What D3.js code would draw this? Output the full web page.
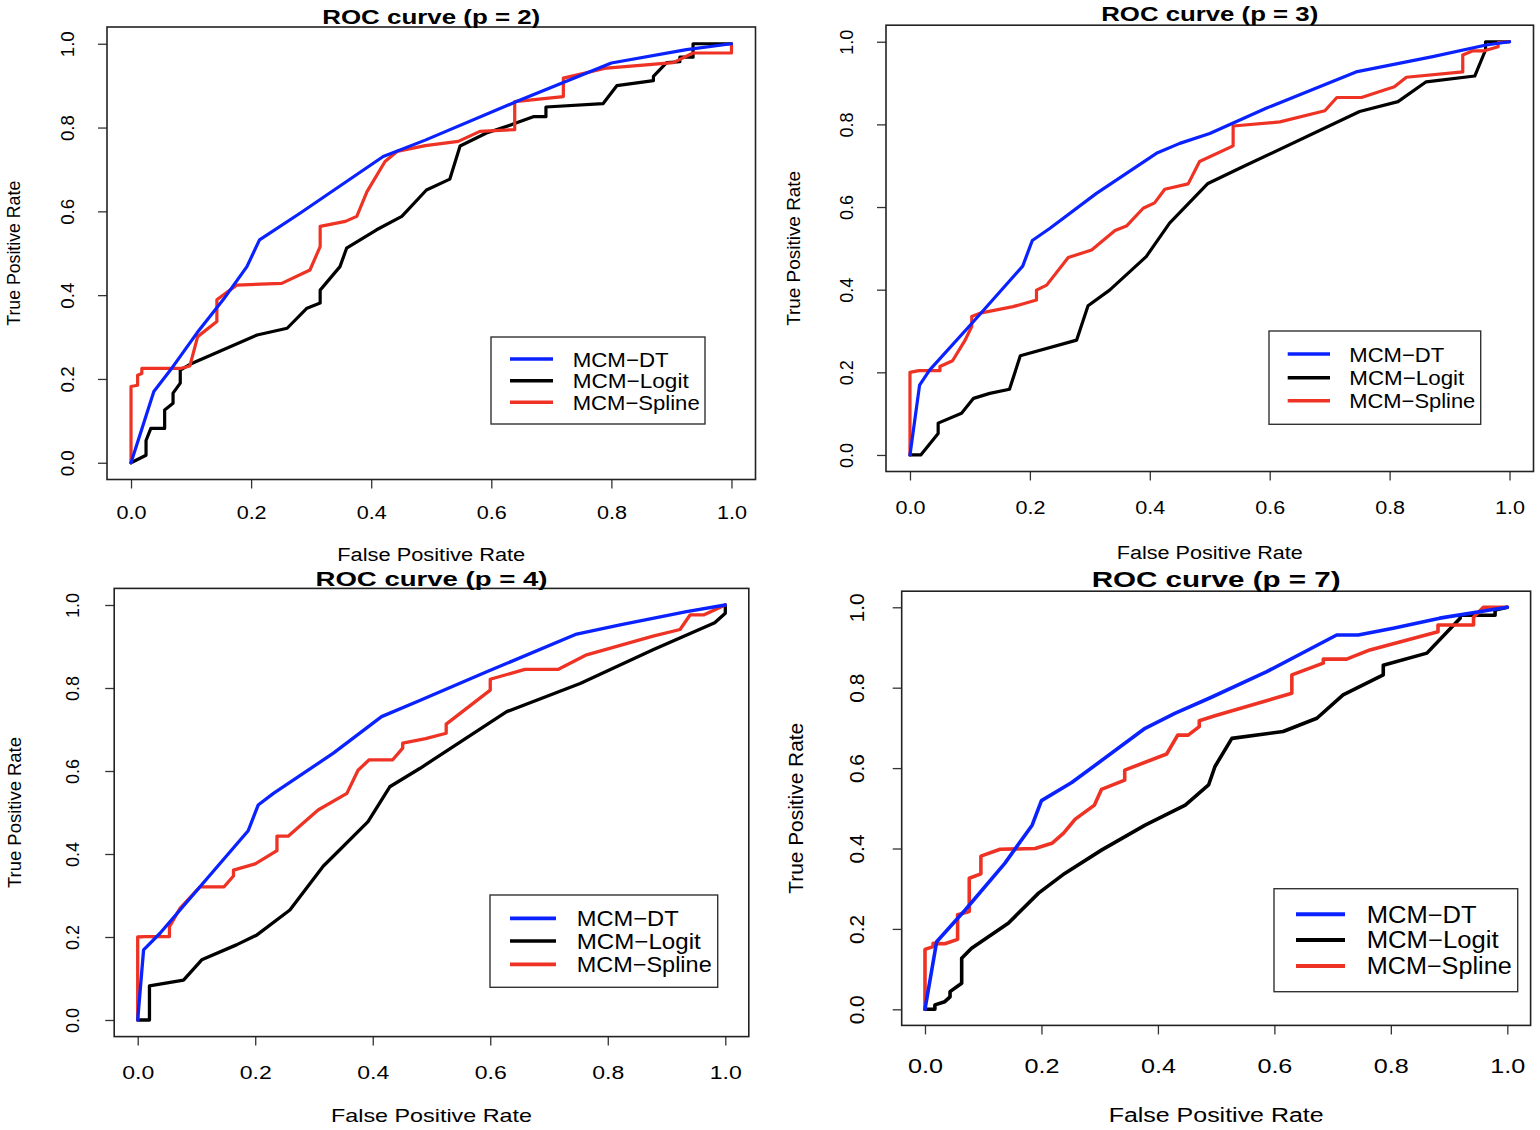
<!DOCTYPE html>
<html><head><meta charset="utf-8">
<script src="https://cdn.jsdelivr.net/npm/d3@7"></script>
<style>body{margin:0;background:#fff}svg{display:block}text{font-family:"Liberation Sans",Arial,Helvetica,sans-serif;fill:#000}</style>
</head><body>
<script>
// ---------- DATA ----------
const tickValues = [0, 0.2, 0.4, 0.6, 0.8, 1.0];
const seriesNames = ["MCM\u2212DT", "MCM\u2212Logit", "MCM\u2212Spline"];
const seriesColors = ["#0a22ff", "#000000", "#ee3224"];
const panelTitles = ["ROC curve (p = 2)", "ROC curve (p = 3)", "ROC curve (p = 4)", "ROC curve (p = 7)"];
const xLabel = "False Positive Rate";
const yLabel = "True Positive Rate";

const p2_dt = [[0,0],[0.038,0.17],[0.065,0.22],[0.11,0.31],[0.154,0.39],[0.193,0.468],[0.214,0.532],[0.282,0.596],[0.42,0.731],[0.49,0.77],[0.642,0.862],[0.8,0.954],[0.925,0.986],[1,1]];
const p2_logit = [[0,0],[0.025,0.018],[0.025,0.053],[0.033,0.082],[0.056,0.082],[0.056,0.126],[0.07,0.142],[0.07,0.166],[0.082,0.19],[0.082,0.221],[0.101,0.237],[0.21,0.305],[0.26,0.321],[0.293,0.369],[0.315,0.381],[0.315,0.412],[0.348,0.468],[0.359,0.512],[0.409,0.556],[0.451,0.588],[0.492,0.651],[0.531,0.677],[0.548,0.756],[0.592,0.787],[0.634,0.807],[0.67,0.826],[0.691,0.826],[0.691,0.849],[0.786,0.857],[0.809,0.9],[0.87,0.912],[0.87,0.922],[0.892,0.955],[0.914,0.957],[0.914,0.968],[0.936,0.968],[0.936,1],[1,1]];
const p2_spline = [[0,0],[0,0.182],[0.011,0.185],[0.011,0.209],[0.018,0.213],[0.018,0.225],[0.082,0.225],[0.098,0.231],[0.111,0.301],[0.143,0.337],[0.143,0.389],[0.176,0.424],[0.251,0.428],[0.298,0.46],[0.315,0.516],[0.315,0.564],[0.357,0.576],[0.376,0.588],[0.393,0.647],[0.423,0.719],[0.443,0.743],[0.49,0.757],[0.545,0.767],[0.581,0.791],[0.639,0.795],[0.639,0.862],[0.72,0.874],[0.72,0.918],[0.792,0.942],[0.903,0.955],[0.936,0.978],[1,0.978],[1,1]];

const p3_dt = [[0,0],[0.016,0.169],[0.033,0.206],[0.106,0.323],[0.188,0.457],[0.204,0.519],[0.233,0.548],[0.311,0.633],[0.411,0.73],[0.45,0.754],[0.5,0.778],[0.594,0.839],[0.744,0.927],[0.872,0.964],[0.961,0.992],[1,1]];
const p3_logit = [[0,0],[0.018,0],[0.047,0.052],[0.047,0.077],[0.086,0.101],[0.106,0.137],[0.133,0.149],[0.166,0.159],[0.184,0.24],[0.278,0.278],[0.297,0.361],[0.333,0.399],[0.394,0.48],[0.433,0.561],[0.497,0.657],[0.556,0.698],[0.75,0.831],[0.814,0.855],[0.861,0.903],[0.942,0.917],[0.96,0.98],[0.96,1],[1,1]];
const p3_spline = [[0,0],[0,0.2],[0.015,0.204],[0.05,0.204],[0.05,0.214],[0.071,0.228],[0.092,0.278],[0.103,0.311],[0.103,0.335],[0.119,0.344],[0.172,0.359],[0.211,0.375],[0.211,0.399],[0.228,0.411],[0.264,0.478],[0.303,0.496],[0.342,0.543],[0.361,0.554],[0.389,0.597],[0.408,0.61],[0.425,0.643],[0.464,0.656],[0.483,0.71],[0.539,0.748],[0.539,0.796],[0.617,0.806],[0.692,0.833],[0.712,0.865],[0.753,0.865],[0.808,0.891],[0.828,0.914],[0.922,0.927],[0.922,0.968],[0.939,0.978],[0.958,0.978],[0.981,0.988],[0.981,0.998],[1,1]];

const p4_dt = [[0,0],[0.01,0.169],[0.038,0.209],[0.106,0.321],[0.188,0.456],[0.205,0.518],[0.231,0.546],[0.333,0.643],[0.415,0.731],[0.48,0.77],[0.594,0.839],[0.747,0.93],[0.821,0.952],[0.934,0.984],[1,1]];
const p4_logit = [[0,0],[0.02,0],[0.02,0.082],[0.078,0.096],[0.109,0.145],[0.168,0.181],[0.203,0.205],[0.259,0.265],[0.316,0.371],[0.341,0.406],[0.392,0.478],[0.429,0.562],[0.48,0.606],[0.628,0.743],[0.753,0.811],[0.877,0.892],[0.982,0.957],[1,0.98],[1,1]];
const p4_spline = [[0,0],[0,0.2],[0.012,0.201],[0.054,0.201],[0.054,0.225],[0.072,0.269],[0.106,0.321],[0.147,0.321],[0.163,0.347],[0.163,0.361],[0.2,0.376],[0.237,0.408],[0.237,0.443],[0.256,0.443],[0.307,0.506],[0.356,0.546],[0.375,0.602],[0.394,0.627],[0.434,0.627],[0.451,0.655],[0.451,0.667],[0.49,0.678],[0.525,0.691],[0.525,0.713],[0.6,0.795],[0.6,0.821],[0.659,0.845],[0.716,0.845],[0.764,0.88],[0.877,0.925],[0.923,0.941],[0.94,0.976],[0.963,0.976],[1,1]];

const p7_dt = [[0,0],[0.02,0.168],[0.069,0.247],[0.137,0.363],[0.184,0.458],[0.2,0.519],[0.252,0.564],[0.378,0.699],[0.429,0.736],[0.49,0.775],[0.587,0.84],[0.707,0.931],[0.744,0.931],[0.804,0.948],[0.884,0.973],[0.965,0.992],[1,1]];
const p7_logit = [[0,0],[0.017,0],[0.017,0.011],[0.034,0.019],[0.043,0.031],[0.043,0.044],[0.063,0.065],[0.063,0.127],[0.08,0.152],[0.143,0.214],[0.195,0.289],[0.24,0.338],[0.303,0.396],[0.378,0.458],[0.447,0.508],[0.487,0.558],[0.498,0.604],[0.527,0.674],[0.615,0.691],[0.673,0.724],[0.718,0.782],[0.787,0.832],[0.787,0.856],[0.862,0.886],[0.919,0.973],[0.919,0.98],[0.979,0.98],[0.979,0.993],[1,1]];
const p7_spline = [[0,0],[0,0.149],[0.014,0.156],[0.014,0.164],[0.034,0.163],[0.056,0.174],[0.056,0.235],[0.076,0.243],[0.076,0.326],[0.096,0.337],[0.096,0.381],[0.129,0.398],[0.189,0.4],[0.218,0.413],[0.238,0.438],[0.258,0.473],[0.291,0.508],[0.303,0.547],[0.343,0.57],[0.343,0.595],[0.415,0.635],[0.434,0.682],[0.452,0.682],[0.471,0.703],[0.471,0.718],[0.498,0.73],[0.63,0.786],[0.63,0.832],[0.684,0.861],[0.684,0.871],[0.724,0.871],[0.764,0.894],[0.881,0.939],[0.881,0.956],[0.942,0.956],[0.942,0.975],[0.959,1],[1,1]];

const panelSeries = [
  [p2_dt, p2_logit, p2_spline],
  [p3_dt, p3_logit, p3_spline],
  [p4_dt, p4_logit, p4_spline],
  [p7_dt, p7_logit, p7_spline]
];

// ---------- LAYOUT ----------
const layouts = [
  {box:[107,27,755.5,479.5], titleY:24, titleW:218, titleFs:20, xtY:519, xtFs:18, xtW:30, xlY:561, xlW:188, xlFs:18,
   ylX:14, ylLen:145, ylFs:18, ytX:68, ytFs:18, ytLen:26, lw:3.2,
   leg:{x0:491,y0:337,x1:705,y1:424, lx0:510,lx1:553, ly:[359,380.7,402.3], tx:572.7, tw:[96,116,127], fs:21}},
  {box:[886,25.2,1533.5,471.5], titleY:21, titleW:217, titleFs:20, xtY:514, xtFs:18, xtW:30, xlY:559, xlW:186, xlFs:18,
   ylX:793, ylLen:155, ylFs:19, ytX:847, ytFs:18, ytLen:25, lw:3.2,
   leg:{x0:1269,y0:331,x1:1480.7,y1:424.3, lx0:1287.7,lx1:1330, ly:[354,377.7,400.7], tx:1349.3, tw:[95,115,126], fs:21}},
  {box:[114.2,588.4,748.8,1036.6], titleY:586, titleW:232, titleFs:21, xtY:1079, xtFs:19, xtW:32, xlY:1122, xlW:201, xlFs:19,
   ylX:14, ylLen:151, ylFs:19, ytX:72, ytFs:19, ytLen:25, lw:3.3,
   leg:{x0:490,y0:895,x1:717.7,y1:987.3, lx0:510,lx1:556, ly:[918.3,941,964.3], tx:576.7, tw:[102,124,135], fs:22}},
  {box:[901.7,591.2,1530.6,1025.4], titleY:587, titleW:249, titleFs:22, xtY:1073, xtFs:20, xtW:35, xlY:1122, xlW:215, xlFs:20,
   ylX:795, ylLen:171, ylFs:21, ytX:857, ytFs:20, ytLen:29, lw:3.6,
   leg:{x0:1274,y0:888.7,x1:1517.7,y1:991.7, lx0:1296,lx1:1345, ly:[914.3,940,966], tx:1366.7, tw:[110,132,145], fs:23}}
];

const svg = d3.select("body").append("svg").attr("width",1540).attr("height",1130);

layouts.forEach((L, i) => {
  const [x0,y0,x1,y1] = L.box;
  const x = d3.scaleLinear().domain([-0.04,1.04]).range([x0,x1]);
  const y = d3.scaleLinear().domain([-0.04,1.04]).range([y1,y0]);
  const g = svg.append("g");

  // x axis
  const xa = g.append("g").attr("transform",`translate(0,${y1})`)
    .call(d3.axisBottom(x).tickValues(tickValues).tickSize(9).tickFormat(d3.format(".1f")));
  xa.select(".domain").remove();
  xa.selectAll(".tick line").attr("stroke","#333").attr("stroke-width",1.3);
  xa.selectAll(".tick text").attr("y", L.xtY - y1).attr("dy",null)
    .attr("font-size",L.xtFs).attr("font-family","Liberation Sans, Arial, sans-serif")
    .attr("textLength",L.xtW).attr("lengthAdjust","spacingAndGlyphs").attr("fill","#000");

  // y axis
  const ya = g.append("g").attr("transform",`translate(${x0},0)`)
    .call(d3.axisLeft(y).tickValues(tickValues).tickSize(9).tickFormat(d3.format(".1f")));
  ya.select(".domain").remove();
  ya.selectAll(".tick line").attr("stroke","#333").attr("stroke-width",1.3);
  ya.selectAll(".tick text")
    .attr("x",0).attr("dy",null)
    .attr("transform",`translate(${L.ytX - x0},0) rotate(-90)`)
    .attr("text-anchor","middle").attr("y",L.ytFs*0.36)
    .attr("font-size",L.ytFs).attr("font-family","Liberation Sans, Arial, sans-serif")
    .attr("textLength",L.ytLen).attr("lengthAdjust","spacingAndGlyphs").attr("fill","#000");

  // curves
  const line = d3.line().x(d=>x(d[0])).y(d=>y(d[1]));
  const order = [1,2,0];
  order.forEach(k => {
    g.append("path").datum(panelSeries[i][k]).attr("d",line)
      .attr("fill","none").attr("stroke",seriesColors[k]).attr("stroke-width",L.lw)
      .attr("stroke-linejoin","round").attr("stroke-linecap","round");
  });

  // box
  g.append("rect").attr("x",x0).attr("y",y0).attr("width",x1-x0).attr("height",y1-y0)
    .attr("fill","none").attr("stroke","#222").attr("stroke-width",1.6);

  // title
  const cx = (x0+x1)/2;
  g.append("text").attr("x",cx).attr("y",L.titleY).attr("text-anchor","middle")
    .attr("font-weight","bold").attr("font-size",L.titleFs)
    .attr("textLength",L.titleW).attr("lengthAdjust","spacingAndGlyphs").text(panelTitles[i]);
  // x label
  g.append("text").attr("x",cx).attr("y",L.xlY).attr("text-anchor","middle")
    .attr("font-size",L.xlFs).attr("textLength",L.xlW).attr("lengthAdjust","spacingAndGlyphs").text(xLabel);
  // y label
  const cy = (y0+y1)/2;
  g.append("text").attr("transform",`translate(${L.ylX + L.ylFs*0.36},${cy}) rotate(-90)`)
    .attr("text-anchor","middle").attr("font-size",L.ylFs)
    .attr("textLength",L.ylLen).attr("lengthAdjust","spacingAndGlyphs").text(yLabel);

  // legend
  const lg = L.leg;
  g.append("rect").attr("x",lg.x0).attr("y",lg.y0).attr("width",lg.x1-lg.x0).attr("height",lg.y1-lg.y0)
    .attr("fill","#fff").attr("stroke","#333").attr("stroke-width",1.4);
  seriesNames.forEach((nm,k) => {
    g.append("line").attr("x1",lg.lx0).attr("x2",lg.lx1).attr("y1",lg.ly[k]).attr("y2",lg.ly[k])
      .attr("stroke",seriesColors[k]).attr("stroke-width",L.lw+0.4);
    g.append("text").attr("x",lg.tx).attr("y",lg.ly[k]+lg.fs*0.36).attr("font-size",lg.fs)
      .attr("textLength",lg.tw[k]).attr("lengthAdjust","spacingAndGlyphs").text(nm);
  });
});
</script>
</body></html>
